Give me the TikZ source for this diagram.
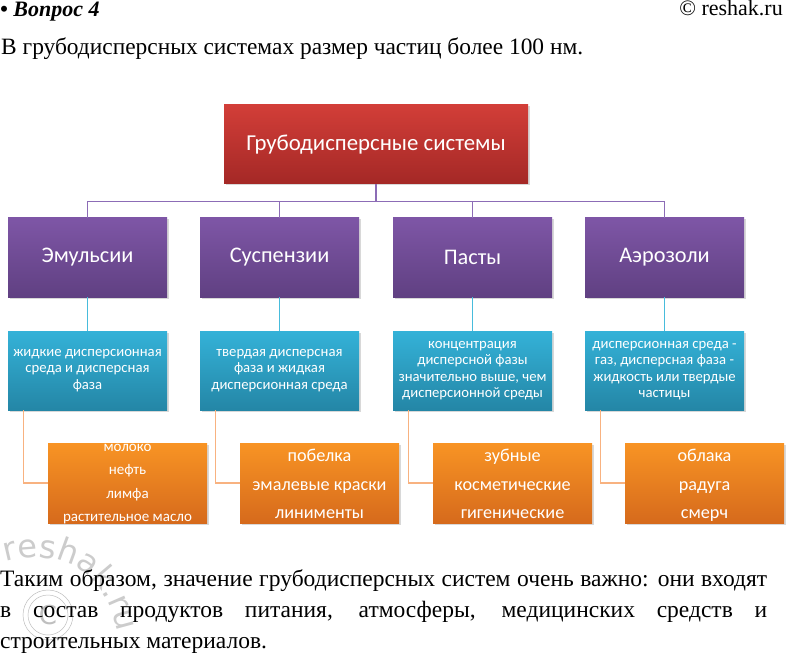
\documentclass[tikz,border=0pt]{standalone}
\usepackage{fontspec}
\setmainfont{Liberation Serif}
\newfontfamily\boxfont{Carlito}
\newfontfamily\markfont{DejaVu Sans}
\usetikzlibrary{shadows,decorations.text}
\definecolor{rootTop}{RGB}{210,62,56}
\definecolor{rootBot}{RGB}{164,40,38}
\definecolor{grpTop}{RGB}{126,86,166}
\definecolor{grpBot}{RGB}{96,64,130}
\definecolor{infoTop}{RGB}{52,178,216}
\definecolor{infoBot}{RGB}{36,134,166}
\definecolor{smpTop}{RGB}{248,148,36}
\definecolor{smpBot}{RGB}{214,106,28}
\definecolor{grpLine}{RGB}{140,108,182}
\definecolor{infoLine}{RGB}{72,188,220}
\definecolor{smpLine}{RGB}{248,178,128}
\tikzset{
  anybox/.style={rectangle, inner sep=0pt, text=white, align=center,
    drop shadow={shadow xshift=1.5pt, shadow yshift=-1.5pt, opacity=0.3}},
  rootbox/.style={anybox, minimum width=304pt, minimum height=79pt,
    top color=rootTop, bottom color=rootBot, font=\boxfont\fontsize{22.8}{26}\selectfont},
  groupbox/.style={anybox, minimum width=159pt, minimum height=79pt,
    top color=grpTop, bottom color=grpBot, font=\boxfont\fontsize{22.3}{26}\selectfont},
  infobox/.style={anybox, minimum width=159pt, minimum height=79pt,
    top color=infoTop, bottom color=infoBot, font=\boxfont\fontsize{14.7}{16.5}\selectfont},
  samplebox/.style={anybox, minimum width=159pt, minimum height=80pt,
    top color=smpTop, bottom color=smpBot, text height=74pt, text depth=3pt,
    font=\boxfont\fontsize{18.2}{28.5}\selectfont},
  groupedge/.style={draw=grpLine, line width=1.3pt},
  infoedge/.style={draw=infoLine, line width=1.3pt},
  sampleedge/.style={draw=smpLine, line width=1.3pt},
  plain/.style={inner sep=0pt, text=black}
}

\begin{document}
\begin{tikzpicture}[x=1pt, y=-1pt]
  \useasboundingbox[fill=white] (0,0) rectangle (787,655);

  \node[plain, anchor=base west, font=\fontsize{22}{24}\selectfont\bfseries\itshape] (title) at (0,17) {• Вопрос 4};
  \node[plain, anchor=base east, font=\fontsize{22}{24}\selectfont] (site) at (783,16) {© reshak.ru};
  \node[plain, anchor=base west, font=\fontsize{23.4}{28}\selectfont] (intro) at (1,55) {В грубодисперсных системах размер частиц более 100 нм.};

  \node[rootbox] (root) at (376,144.5) {Грубодисперсные системы};

  \node[groupbox] (emul) at (87.5,257.5) {Эмульсии};
  \node[groupbox] (susp) at (279.5,257.5) {Суспензии};
  \node[groupbox] (past) at (472.5,257.5) {Пасты};
  \node[groupbox] (aero) at (664.5,257.5) {Аэрозоли};

  \node[infobox] (emulinfo) at (87.5,370.5) {жидкие дисперсионная\\среда и дисперсная\\фаза};
  \node[infobox] (suspinfo) at (279.5,370.5) {твердая дисперсная\\фаза и жидкая\\дисперсионная среда};
  \node[infobox] (pastinfo) at (472.5,370.5) {концентрация\\дисперсной фазы\\значительно выше, чем\\дисперсионной среды};
  \node[infobox] (aeroinfo) at (664.5,370.5) {дисперсионная среда -\\газ, дисперсная фаза -\\жидкость или твердые\\частицы};

  \node[samplebox, text height=77pt, text depth=0pt, font=\boxfont\fontsize{15}{23.3}\selectfont] (emulsmp) at (127.5,483) {молоко\\нефть\\лимфа\\растительное масло};
  \node[samplebox] (suspsmp) at (319.5,483) {побелка\\эмалевые краски\\линименты};
  \node[samplebox] (pastsmp) at (512.5,483) {зубные\\косметические\\гигенические};
  \node[samplebox] (aerosmp) at (704.5,483) {облака\\радуга\\смерч};

  \foreach \g in {emul,susp,past,aero} {
    \draw[groupedge] (root.south) -- ++(0,17) -| (\g.north);
    \draw[infoedge] (\g.south) -- (\g info.north);
    \draw[sampleedge] ([xshift=16pt]\g info.south west) |- (\g smp.west);
  }

  \path[postaction={decorate, decoration={text along path, text align=left,
      text={|\markfont\fontsize{32}{32}\selectfont\color{gray!40}|reshak.ru}}}]
    (6,562) .. controls (60,546) and (114,572) .. (120,650);
  \node[circle, draw=gray!50, line width=0.5pt, minimum size=50pt] (markring) at (48,615) {};
  \node[circle, draw=gray!50, line width=0.5pt, minimum size=40pt, text=gray!50,
    font=\markfont\fontsize{26}{26}\selectfont] (markc) at (48,615) {C};

  \node[plain, anchor=north west, text width=767pt, align=justify, font=\fontsize{23.5}{31}\selectfont] (outro) at (0,569.5)
    {Таким образом, значение грубодисперсных систем очень важно: они входят\linebreak в состав продуктов питания, атмосферы, медицинских средств и\linebreak строительных материалов.};
\end{tikzpicture}
\end{document}
